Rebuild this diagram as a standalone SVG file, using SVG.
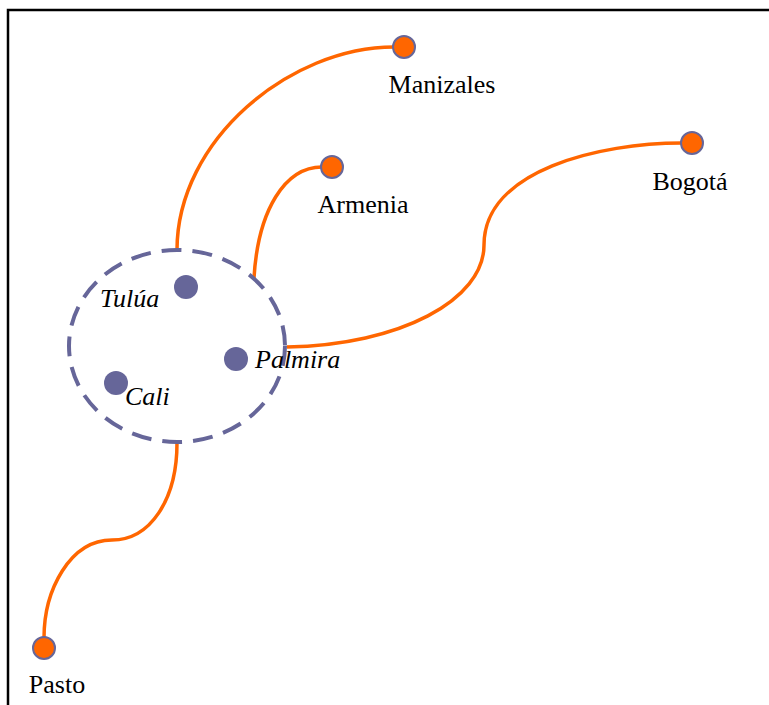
<svg xmlns="http://www.w3.org/2000/svg" width="769" height="705" viewBox="0 0 769 705">
<style>
.lbl{font-family:"Liberation Serif","Times New Roman",serif;font-size:26px;fill:#000}
.it{font-style:italic}
.city{fill:#FF6600;stroke:#666699;stroke-width:2}
.inner{fill:#666699}
.conn{fill:none;stroke:#FF6600;stroke-width:3.5}
</style>
<rect x="0" y="0" width="769" height="705" fill="#fff"/>
<path d="M8,705 V10 H769" fill="none" stroke="#000" stroke-width="2.5"/>
<g id="connectors">
<path class="conn" d="M177,250 C177,140 290,47 394,47"/>
<path class="conn" d="M254,278 C258,210 285,167 322,167"/>
<path class="conn" d="M287,347 C400,345 484,300 484,245 C484,170 600,143 682,143"/>
<path class="conn" d="M177,443 C177,500 150,540 112,540 C70,540 44,590 44,638"/>
</g>
<g id="region">
<ellipse cx="177" cy="346" rx="108" ry="96" fill="none" stroke="#666699" stroke-width="4" stroke-dasharray="20,11"/>
</g>
<g id="tulua"><circle class="inner" cx="186" cy="287" r="12"/><text class="lbl it" x="100" y="307">Tulúa</text></g>
<g id="palmira"><circle class="inner" cx="236" cy="359" r="12"/><text class="lbl it" x="255" y="368">Palmira</text></g>
<g id="cali"><circle class="inner" cx="116" cy="383" r="12"/><text class="lbl it" x="125" y="405">Cali</text></g>
<g id="manizales"><circle class="city" cx="404" cy="47" r="11"/><text class="lbl" x="442" y="93" text-anchor="middle">Manizales</text></g>
<g id="armenia"><circle class="city" cx="332" cy="167" r="11"/><text class="lbl" x="363" y="213" text-anchor="middle">Armenia</text></g>
<g id="bogota"><circle class="city" cx="692" cy="143" r="11"/><text class="lbl" x="690" y="190" text-anchor="middle">Bogotá</text></g>
<g id="pasto"><circle class="city" cx="44" cy="648" r="11"/><text class="lbl" x="57" y="693" text-anchor="middle">Pasto</text></g>
</svg>
